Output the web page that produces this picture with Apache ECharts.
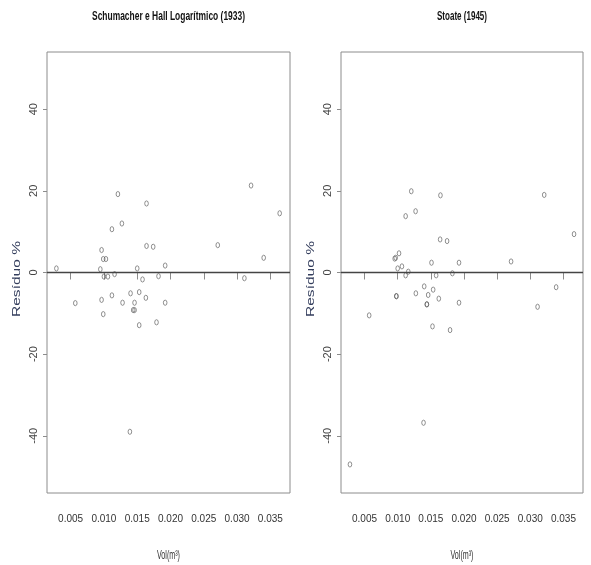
<!DOCTYPE html>
<html>
<head>
<meta charset="utf-8">
<script src="https://cdn.jsdelivr.net/npm/echarts@6/dist/echarts.min.js"></script>
<style>html,body{margin:0;padding:0;background:#fff}#c{width:591px;height:565px}</style>
</head>
<body>
<div id="c"></div>
<script>
// ---- data ----
var titles = ['Schumacher e Hall Logarítmico (1933)', 'Stoate (1945)'];
var xName = 'Vol(m³)';
var yName = 'Resíduo %';
var xTicks = [0.005, 0.010, 0.015, 0.020, 0.025, 0.030, 0.035];
var yTicks = [-40, -20, 0, 20, 40];

var volSH = [0.00286, 0.0057, 0.00965, 0.0099, 0.0103, 0.00946, 0.0100, 0.0106, 0.0116, 0.0112,
             0.0121, 0.0127, 0.00965, 0.0099, 0.0112, 0.0128, 0.0140, 0.0146, 0.0144, 0.0146,
             0.0153, 0.0163, 0.0153, 0.0150, 0.0158, 0.0164, 0.0164, 0.0174, 0.0182, 0.0192,
             0.0192, 0.0179, 0.0139, 0.0321, 0.0364, 0.0271, 0.0340, 0.0311];
var resSH = [1.0, -7.5, 5.5, 3.3, 3.3, 0.8, -1.0, -1.0, -0.4, 10.6,
             19.2, 12.0, -6.7, -10.2, -5.6, -7.4, -5.1, -7.4, -9.2, -9.2,
             -4.8, -6.2, -12.9, 1.0, -1.7, 16.9, 6.5, 6.3, -0.9, 1.7,
             -7.4, -12.2, -39.0, 21.3, 14.5, 6.7, 3.6, -1.4];

var volST = [0.01205, 0.01645, 0.0127, 0.0112, 0.0164, 0.01745, 0.0102, 0.00955, 0.0097, 0.01064,
             0.0100, 0.0116, 0.0112, 0.0151, 0.0158, 0.01925, 0.01825, 0.0098, 0.0098, 0.01274,
             0.0140, 0.0146, 0.01535, 0.0144, 0.0144, 0.0162, 0.01925, 0.0057, 0.01525, 0.0179,
             0.0321, 0.0366, 0.0271, 0.0339, 0.0311, 0.0139, 0.0028];
var resST = [19.9, 18.9, 15.0, 13.8, 8.1, 7.7, 4.7, 3.4, 3.6, 1.5,
             1.0, 0.2, -0.7, 2.4, -0.7, 2.4, -0.2, -5.8, -5.8, -5.1,
             -3.4, -5.5, -4.2, -7.8, -7.8, -6.4, -7.4, -10.5, -13.2, -14.1,
             19.0, 9.4, 2.7, -3.6, -8.4, -36.8, -47.0];

function pairs(xs, ys) { return xs.map(function (x, i) { return [x, ys[i]]; }); }

// ---- layout / style ----
var grids = [
  { left: 47, top: 52, width: 243, height: 441 },
  { left: 341, top: 52, width: 242, height: 441 }
];
var boxColor = '#8c8c8c';
var ctx = document.createElement('canvas').getContext('2d');
function fitScale(text, font, target) { ctx.font = font; return target / ctx.measureText(text).width; }

var titleFont = 'bold 13px "Liberation Sans", Arial, sans-serif';
var xNameFont = '12px "Liberation Sans", Arial, sans-serif';
var yNameFont = '11px "Liberation Sans", Arial, sans-serif';

function xAxis(i) {
  return {
    type: 'value', gridIndex: i, min: 0.00145, max: 0.03795, offset: 3,
    axisLine: { show: false }, splitLine: { show: false },
    axisTick: { show: true, length: 7, customValues: xTicks, lineStyle: { color: boxColor } },
    axisLabel: { customValues: xTicks, margin: 18, color: '#333', fontSize: 10,
      fontFamily: 'Liberation Sans', formatter: function (v) { return v.toFixed(3); } }
  };
}
function yAxis(i) {
  return {
    type: 'value', gridIndex: i, min: -54, max: 54,
    axisLine: { show: false }, splitLine: { show: false },
    axisTick: { show: true, length: 4, customValues: yTicks, lineStyle: { color: boxColor } },
    axisLabel: { customValues: yTicks, rotate: 90, margin: 8, color: '#444', fontSize: 11,
      fontFamily: 'Liberation Sans' }
  };
}
var ellipse = 'path://M0,5A3,5 0 1 1 6,5A3,5 0 1 1 0,5Z';
function series(i, data) {
  return {
    type: 'scatter', xAxisIndex: i, yAxisIndex: i, data: data,
    symbol: ellipse, symbolSize: [3.6, 5.2], silent: true,
    itemStyle: { color: 'rgba(0,0,0,0)', borderColor: '#555', borderWidth: 0.8 },
    markLine: { silent: true, symbol: 'none', label: { show: false },
      lineStyle: { color: '#444', width: 1.3, type: 'solid' }, data: [{ yAxis: 0 }] }
  };
}

var graphics = [];
grids.forEach(function (g, i) {
  var cx = g.left + g.width / 2;
  graphics.push({ type: 'text', x: cx, y: 16.5, scaleX: fitScale(titles[i], titleFont, i === 0 ? 153 : 50),
    style: { text: titles[i], font: titleFont, fill: '#111', align: 'center', verticalAlign: 'middle' } });
  graphics.push({ type: 'text', x: cx, y: 556, scaleX: fitScale(xName, xNameFont, 23),
    style: { text: xName, font: xNameFont, fill: '#333', align: 'center', verticalAlign: 'middle' } });
  graphics.push({ type: 'text', x: g.left - 30, y: 279, rotation: Math.PI / 2,
    scaleX: fitScale(yName, yNameFont, 76),
    style: { text: yName, font: yNameFont, fill: '#333d5c', align: 'center', verticalAlign: 'middle' } });
});

var chart = echarts.init(document.getElementById('c'), null, { renderer: 'canvas' });
chart.setOption({
  animation: false,
  backgroundColor: '#fff',
  grid: grids.map(function (g) {
    return { left: g.left, top: g.top, width: g.width, height: g.height, show: true,
      borderColor: boxColor, borderWidth: 1, backgroundColor: 'transparent', containLabel: false };
  }),
  xAxis: [xAxis(0), xAxis(1)],
  yAxis: [yAxis(0), yAxis(1)],
  series: [series(0, pairs(volSH, resSH)), series(1, pairs(volST, resST))],
  graphic: graphics
});
</script>
</body>
</html>
